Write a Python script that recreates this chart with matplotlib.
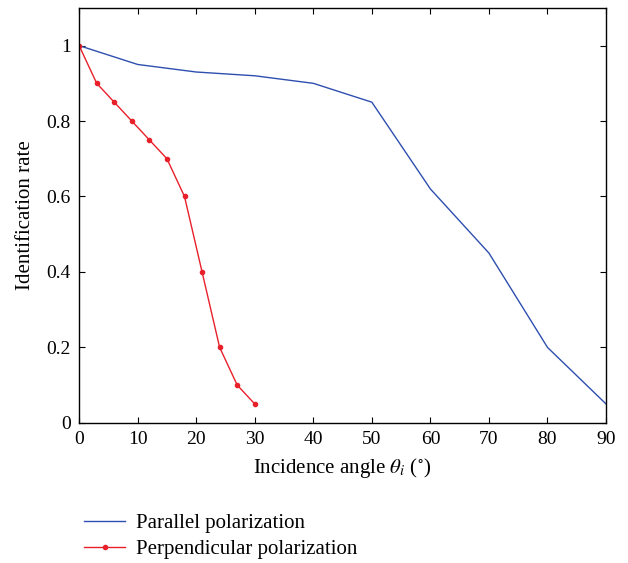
import numpy as np
import matplotlib
matplotlib.use('Agg')
import matplotlib.pyplot as plt

# ── Data ──────────────────────────────────────────────────────
par_angle = [0, 10, 20, 30, 40, 50, 60, 70, 80, 90]
par_rate  = [1.0, 0.95, 0.93, 0.92, 0.90, 0.85, 0.62, 0.45, 0.20, 0.05]

perp_angle = [0, 3, 6, 9, 12, 15, 18, 21, 24, 27, 30]
perp_rate  = [1.0, 0.90, 0.85, 0.80, 0.75, 0.70, 0.60, 0.40, 0.20, 0.10, 0.05]

x_ticks = [0, 10, 20, 30, 40, 50, 60, 70, 80, 90]
y_ticks = [0, 0.2, 0.4, 0.6, 0.8, 1]
y_labels = ['0', '0.2', '0.4', '0.6', '0.8', '1']

# ── Style ─────────────────────────────────────────────────────
plt.rcParams['font.family'] = ['Liberation Serif', 'DejaVu Serif']
plt.rcParams['mathtext.fontset'] = 'stix'
plt.rcParams['font.size'] = 14

fig = plt.figure(figsize=(6.28, 5.63), dpi=100)
ax = fig.add_axes([0.126, 0.249, 0.839, 0.737])

ax.plot(par_angle, par_rate, color='#2E4FAF', lw=1.0, label='Parallel polarization')
ax.plot(perp_angle, perp_rate, color='#E8202A', lw=1.0, marker='o', ms=3,
        label='Perpendicular polarization')

ax.set_xlim(0, 90)
ax.set_ylim(0, 1.1)
ax.set_xticks(x_ticks)
ax.set_yticks(y_ticks)
ax.set_yticklabels(y_labels)
ax.tick_params(direction='in', top=True, right=True, length=4, labelsize=14, pad=6)
for s in ax.spines.values():
    s.set_linewidth(1.0)

ax.set_xlabel(r'Incidence angle $\theta_i$ ($^{\circ}$)', fontsize=15, labelpad=6)
ax.set_ylabel('Identification rate', fontsize=15, labelpad=8)

fig.legend(loc='upper left', bbox_to_anchor=(0.12, 0.102), frameon=False,
           handlelength=2.0, handletextpad=0.5, labelspacing=0.3, fontsize=15,
           borderaxespad=0)

plt.savefig('out.png', dpi=100)
